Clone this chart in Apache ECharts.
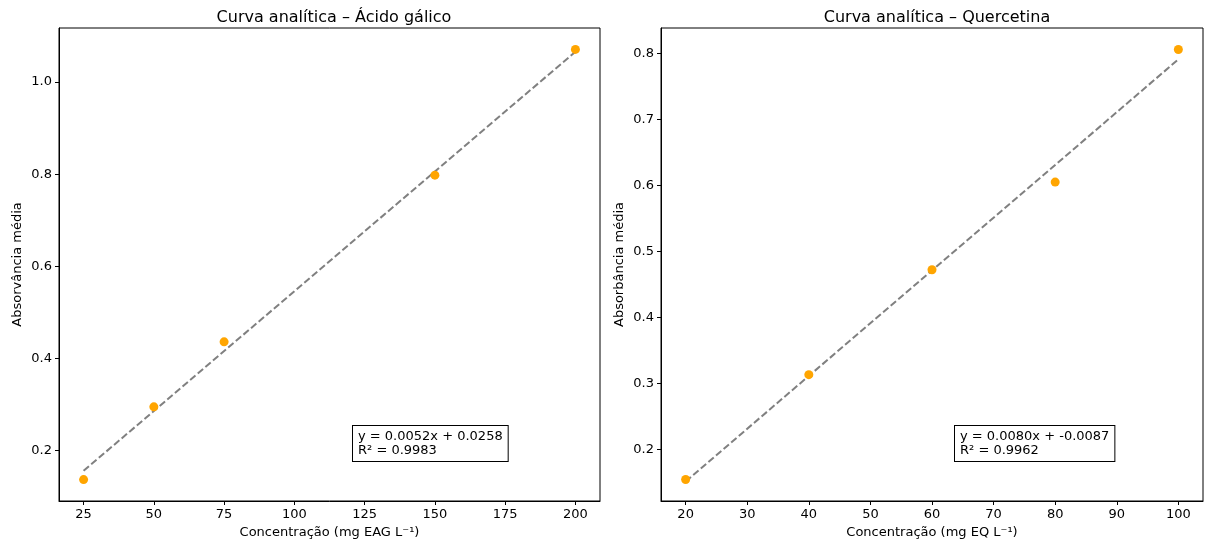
<!DOCTYPE html>
<html>
<head>
<meta charset="utf-8">
<script src="https://cdn.jsdelivr.net/npm/echarts@6/dist/echarts.min.js"></script>
<style>
  html, body { margin: 0; padding: 0; background: #fff; }
  #main { width: 1205px; height: 544px; }
</style>
</head>
<body>
<div id="main"></div>
<script>
// Ácido gálico
var galicoX = [25, 50, 75, 150, 200];
var galicoY = [0.137, 0.295, 0.436, 0.798, 1.071];
var galicoFitX = [25, 200];
var galicoFitY = [0.156, 1.066];
var galicoEq = 'y = 0.0052x + 0.0258\nR² = 0.9983';
var galicoXTicks = [25, 50, 75, 100, 125, 150, 175, 200];
var galicoYTicks = [0.2, 0.4, 0.6, 0.8, 1.0];

// Quercetina
var querX = [20, 40, 60, 80, 100];
var querY = [0.154, 0.313, 0.472, 0.605, 0.806];
var querFitX = [20, 100];
var querFitY = [0.151, 0.791];
var querEq = 'y = 0.0080x + -0.0087\nR² = 0.9962';
var querXTicks = [20, 30, 40, 50, 60, 70, 80, 90, 100];
var querYTicks = [0.2, 0.3, 0.4, 0.5, 0.6, 0.7, 0.8];

function pairs(xs, ys) {
	var out = [];
	for (var i = 0; i < xs.length; i++) out.push([xs[i], ys[i]]);
	return out;
}

var font = 'DejaVu Sans';

function xAx(idx, min, max, ticks, name) {
	return {
		type: 'value', gridIndex: idx, min: min, max: max,
		name: name, nameLocation: 'middle', nameGap: 24,
		nameTextStyle: { color: '#000', fontFamily: font, fontSize: 13 },
		axisLine: { show: true, onZero: false, lineStyle: { color: '#000', width: 1 } },
		axisTick: { show: true, length: 4, customValues: ticks, lineStyle: { color: '#000' } },
		axisLabel: { color: '#000', fontFamily: font, fontSize: 13, margin: 7, customValues: ticks },
		splitLine: { show: false }
	};
}

function yAx(idx, min, max, ticks, name) {
	return {
		type: 'value', gridIndex: idx, min: min, max: max,
		name: name, nameLocation: 'middle', nameGap: 35,
		nameTextStyle: { color: '#000', fontFamily: font, fontSize: 13 },
		axisLine: { show: true, onZero: false, lineStyle: { color: '#000', width: 1 } },
		axisTick: { show: true, length: 4, customValues: ticks, lineStyle: { color: '#000' } },
		axisLabel: { color: '#000', fontFamily: font, fontSize: 13, margin: 7, customValues: ticks,
			formatter: function (v) { return v.toFixed(1); } },
		splitLine: { show: false }
	};
}

var option = {
	animation: false,
	backgroundColor: '#fff',
	title: [
		{ text: 'Curva analítica – Ácido gálico', left: 329, top: 5, textAlign: 'center',
			textStyle: { color: '#000', fontFamily: font, fontSize: 16, fontWeight: 'normal' } },
		{ text: 'Curva analítica – Quercetina', left: 932, top: 5, textAlign: 'center',
			textStyle: { color: '#000', fontFamily: font, fontSize: 16, fontWeight: 'normal' } }
	],
	grid: [
		{ left: 59, top: 28, width: 541, height: 473, show: true, borderColor: '#000', borderWidth: 1 },
		{ left: 661, top: 28, width: 542, height: 473, show: true, borderColor: '#000', borderWidth: 1 }
	],
	xAxis: [
		xAx(0, 16.25, 208.75, galicoXTicks, 'Concentração (mg EAG L⁻¹)'),
		xAx(1, 16, 104, querXTicks, 'Concentração (mg EQ L⁻¹)')
	],
	yAxis: [
		yAx(0, 0.0905, 1.1175, galicoYTicks, 'Absorvância média'),
		yAx(1, 0.1214, 0.8386, querYTicks, 'Absorbância média')
	],
	series: [
		{
			name: 'fit1', type: 'line', xAxisIndex: 0, yAxisIndex: 0,
			data: pairs(galicoFitX, galicoFitY), symbol: 'none',
			lineStyle: { color: '#808080', width: 2, type: [7, 3] }, z: 2
		},
		{
			name: 'pts1', type: 'scatter', xAxisIndex: 0, yAxisIndex: 0,
			data: pairs(galicoX, galicoY), symbolSize: 9,
			itemStyle: { color: '#FFA500', opacity: 1 }, z: 3
		},
		{
			name: 'fit2', type: 'line', xAxisIndex: 1, yAxisIndex: 1,
			data: pairs(querFitX, querFitY), symbol: 'none',
			lineStyle: { color: '#808080', width: 2, type: [7, 3] }, z: 2
		},
		{
			name: 'pts2', type: 'scatter', xAxisIndex: 1, yAxisIndex: 1,
			data: pairs(querX, querY), symbolSize: 9,
			itemStyle: { color: '#FFA500', opacity: 1 }, z: 3
		}
	],
	graphic: [
		{
			type: 'text', left: 352, top: 425, z: 10,
			style: { text: galicoEq, font: '13px "DejaVu Sans"', fill: '#000', lineHeight: 14,
				backgroundColor: '#fff', borderColor: '#000', borderWidth: 1, padding: [4, 5, 3, 5] }
		},
		{
			type: 'text', left: 954, top: 425, z: 10,
			style: { text: querEq, font: '13px "DejaVu Sans"', fill: '#000', lineHeight: 14,
				backgroundColor: '#fff', borderColor: '#000', borderWidth: 1, padding: [4, 5, 3, 5] }
		}
	]
};

var myChart = echarts.init(document.getElementById('main'));
myChart.setOption(option);
</script>
</body>
</html>
